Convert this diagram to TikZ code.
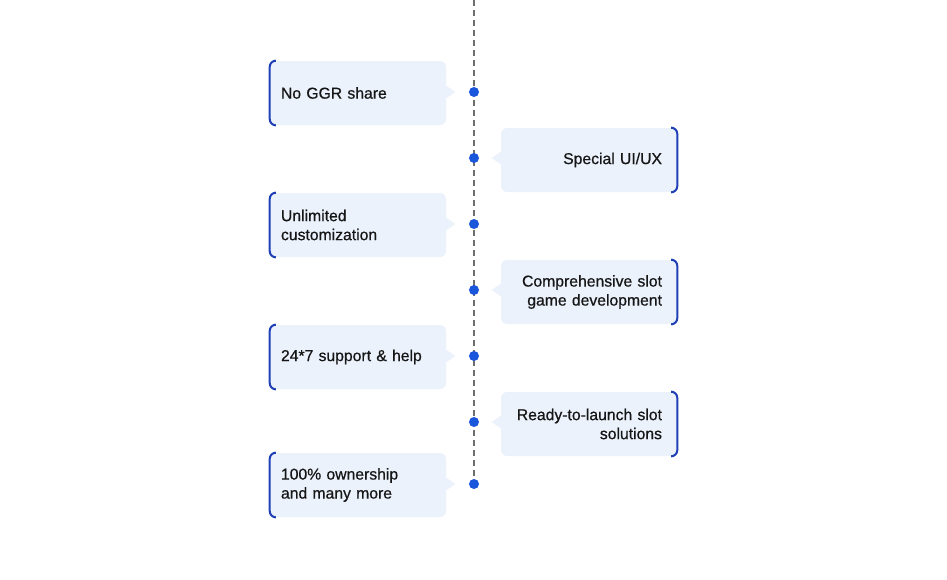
\documentclass[tikz,border=0pt]{standalone}
\usepackage{fontspec}
\setmainfont{Liberation Sans}
\newfontfamily\medfont[FakeBold=0.6]{Liberation Sans}
\usetikzlibrary{calc}
\definecolor{boxfill}{HTML}{EBF2FC}
\definecolor{edgeblue}{HTML}{1E3FB5}
\definecolor{dotblue}{HTML}{1A56DB}
\definecolor{dashgray}{HTML}{6E6E6E}
\definecolor{ink}{HTML}{161616}
\begin{document}
\begin{tikzpicture}[x=0.75pt,y=-0.75pt,
  box/.style={fill=boxfill, rounded corners=4.5pt, minimum height=48pt, inner ysep=0pt,
    text=ink, font=\medfont\fontsize{11.8}{14.25}\selectfont},
  lbox/.style={box, inner xsep=8.25pt, text width=115.5pt, align=left},
  rbox/.style={box, inner xsep=11.25pt, text width=109.5pt, align=right},
  border/.style={draw=edgeblue, line width=1.5pt, rounded corners=4.5pt},
  dot/.style={circle, fill=dotblue, minimum size=7.5pt, inner sep=0pt},
  dashline/.style={draw=dashgray, line width=1.6pt, dash pattern=on 4.5pt off 3pt},
  pointer/.style={fill=boxfill}]
\useasboundingbox (0,0) rectangle (947,579);
% dots
\coordinate (top) at (474,0);
\path (474,92) coordinate (p1) (474,158) coordinate (p2) (474,224) coordinate (p3)
      (474,290) coordinate (p4) (474,356) coordinate (p5) (474,422) coordinate (p6)
      (474,484) coordinate (p7);
\draw[dashline] (top) -- (p7);
\foreach \i in {1,...,7} {\node[dot] (d\i) at (p\i) {};}
% left boxes
\node[lbox] (b1) at (358,93) {No GGR share};
\node[lbox] (b3) at (358,225) {Unlimited\\customization};
\node[lbox] (b5) at (358,357) {24*7 support \& help};
\node[lbox] (b7) at (358,485) {100\% ownership\\and many more};
% right boxes
\node[rbox] (b2) at (589,160) {Special UI/UX};
\node[rbox] (b4) at (589,292) {Comprehensive slot\\game development};
\node[rbox] (b6) at (589,424) {Ready-to-launch slot\\solutions};
% left pointers and borders
\foreach \i in {1,3,5,7} {
  \fill[pointer] ($(b\i.east |- d\i)+(-1,-7)$) -- ($(b\i.east |- d\i)+(9,0)$) -- ($(b\i.east |- d\i)+(-1,7)$) -- cycle;
  \draw[border] ($(b\i.north west)+(5,0)$) -- (b\i.north west) -- (b\i.south west) -- ($(b\i.south west)+(5,0)$);
}
% right pointers and borders
\foreach \i in {2,4,6} {
  \fill[pointer] ($(b\i.west |- d\i)+(1,-7)$) -- ($(b\i.west |- d\i)+(-9,0)$) -- ($(b\i.west |- d\i)+(1,7)$) -- cycle;
  \draw[border] ($(b\i.north east)+(-5,0)$) -- (b\i.north east) -- (b\i.south east) -- ($(b\i.south east)+(-5,0)$);
}
\end{tikzpicture}
\end{document}
